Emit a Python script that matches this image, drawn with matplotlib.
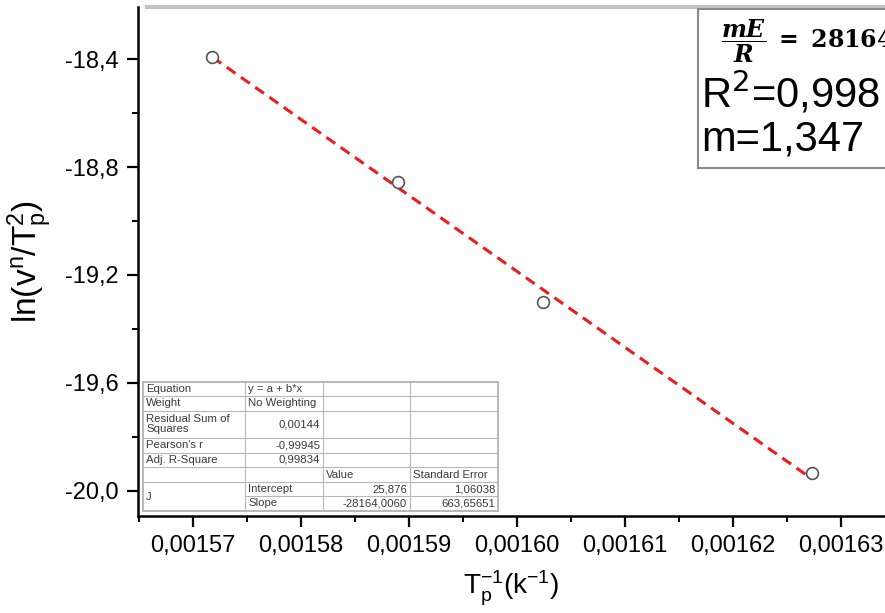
import matplotlib
matplotlib.use("Agg")
import matplotlib.pyplot as plt
from matplotlib.patches import Rectangle
from matplotlib.lines import Line2D
from matplotlib.ticker import FuncFormatter, MultipleLocator, AutoMinorLocator

plt.rcParams["font.family"] = ["Liberation Sans", "DejaVu Sans"]

# Kissinger-type plot: 1/Tp against ln(v^n / Tp^2)
inv_tp = [0.0015718, 0.0015890, 0.0016024, 0.0016273]
ln_rate = [-18.393, -18.855, -19.300, -19.933]

# Linear fit results
fit_intercept = 25.876
fit_slope = -28164.0060

table_rows = [
    ["Equation", "y = a + b*x", "", ""],
    ["Weight", "No Weighting", "", ""],
    ["Residual Sum of\nSquares", "0,00144", "", ""],
    ["Pearson's r", "-0,99945", "", ""],
    ["Adj. R-Square", "0,99834", "", ""],
    ["", "", "Value", "Standard Error"],
    ["J", "Intercept", "25,876", "1,06038"],
    ["", "Slope", "-28164,0060", "663,65651"],
]

W, H = 885, 613
fig = plt.figure(figsize=(W / 100, H / 100), dpi=100)


def fx(px):
    return px / W


def fy(py):
    return 1 - py / H


ax = fig.add_axes([fx(138), fy(516), fx(885) - fx(138), fy(7) - fy(516)])
ax.set_xlim(0.0015649, 0.0016341)
ax.set_ylim(-20.094, -18.206)

ax.plot(inv_tp, ln_rate, linestyle="none", marker="o", markersize=8.5,
        markerfacecolor="white", markeredgecolor="#555555", markeredgewidth=1.2,
        zorder=3)
x_fit = [inv_tp[0], inv_tp[-1]]
y_fit = [fit_intercept + fit_slope * v for v in x_fit]
ax.plot(x_fit, y_fit, color="#ee1c1c", linewidth=2.2, linestyle=(0, (3.5, 2.2)),
        zorder=2)

ax.xaxis.set_major_locator(MultipleLocator(0.00001))
ax.xaxis.set_minor_locator(AutoMinorLocator(2))
ax.yaxis.set_major_locator(MultipleLocator(0.4))
ax.yaxis.set_minor_locator(AutoMinorLocator(2))
ax.xaxis.set_major_formatter(FuncFormatter(lambda v, p: f"{v:.5f}".replace(".", ",")))
ax.yaxis.set_major_formatter(FuncFormatter(lambda v, p: f"{v:.1f}".replace(".", ",")))
ax.tick_params(which="major", direction="out", length=8, width=1.6,
               labelsize=17, pad=6)
ax.tick_params(which="minor", direction="out", length=4.5, width=1.4)

ax.spines["right"].set_visible(False)
ax.spines["left"].set_linewidth(1.8)
ax.spines["bottom"].set_linewidth(1.8)
ax.spines["top"].set_color("#c3c3c3")
ax.spines["top"].set_linewidth(3)
ax.spines["top"].set_bounds(0.0015657, 0.0016341)

ax.set_ylabel(r"$\mathregular{ln(v^n/T_p^2)}$", fontsize=24, labelpad=8)
ax.set_xlabel(r"$\mathregular{T_p^{-1}(k^{-1})}$", fontsize=20, labelpad=8)

# Fit statistics table in the lower-left corner
col_x = [143, 245, 323, 410, 498]
row_y = [382, 396, 411, 438, 453, 467, 482, 496, 511]
grid_color = "#b8b8b8"
txt_color = "#3a3a3a"
fig.add_artist(Rectangle((fx(col_x[0]), fy(row_y[-1])), fx(col_x[-1]) - fx(col_x[0]),
                         fy(row_y[0]) - fy(row_y[-1]), transform=fig.transFigure,
                         facecolor="white", edgecolor=grid_color, linewidth=1.4,
                         zorder=5))
for yy in row_y[1:-1]:
    x0 = col_x[1] if yy == row_y[7] else col_x[0]
    fig.add_artist(Line2D([fx(x0), fx(col_x[-1])], [fy(yy), fy(yy)],
                          transform=fig.transFigure, color=grid_color,
                          linewidth=0.8, zorder=6))
for xx in col_x[1:-1]:
    fig.add_artist(Line2D([fx(xx), fx(xx)], [fy(row_y[0]), fy(row_y[-1])],
                          transform=fig.transFigure, color=grid_color,
                          linewidth=0.8, zorder=6))

for r, row in enumerate(table_rows):
    for c, cell in enumerate(row):
        if not cell:
            continue
        left, right = col_x[c], col_x[c + 1]
        if cell == "J":
            ymid = (row_y[6] + row_y[8]) / 2
        else:
            ymid = (row_y[r] + row_y[r + 1]) / 2
        numeric = cell[0].isdigit() or (cell[0] == "-" and cell[1:2].isdigit())
        if numeric:
            fig.text(fx(right - 3), fy(ymid), cell, ha="right", va="center",
                     fontsize=8.2, color=txt_color, zorder=7)
        else:
            fig.text(fx(left + 3), fy(ymid), cell, ha="left", va="center",
                     fontsize=8.2, color=txt_color, linespacing=1.0, zorder=7)

# Activation energy box in the upper-right corner
fig.add_artist(Rectangle((fx(698), fy(168)), fx(900) - fx(698), fy(9) - fy(168),
                         transform=fig.transFigure, facecolor="white",
                         edgecolor="#8a8a8a", linewidth=1.5, zorder=5))
fig.text(fx(721), fy(41), r"$\dfrac{\boldsymbol{mE}}{\boldsymbol{R}}\mathbf{\ =\ 28164}$",
         fontsize=17, math_fontfamily="dejavuserif", ha="left", va="center",
         color="black", zorder=7)
fig.text(fx(701), fy(93), r"R$^2$=0,998", fontsize=30, ha="left", va="center",
         color="black", zorder=7)
fig.text(fx(701), fy(139), "m=1,347", fontsize=30, ha="left", va="center",
         color="black", zorder=7)

fig.savefig("out.png", dpi=100)
